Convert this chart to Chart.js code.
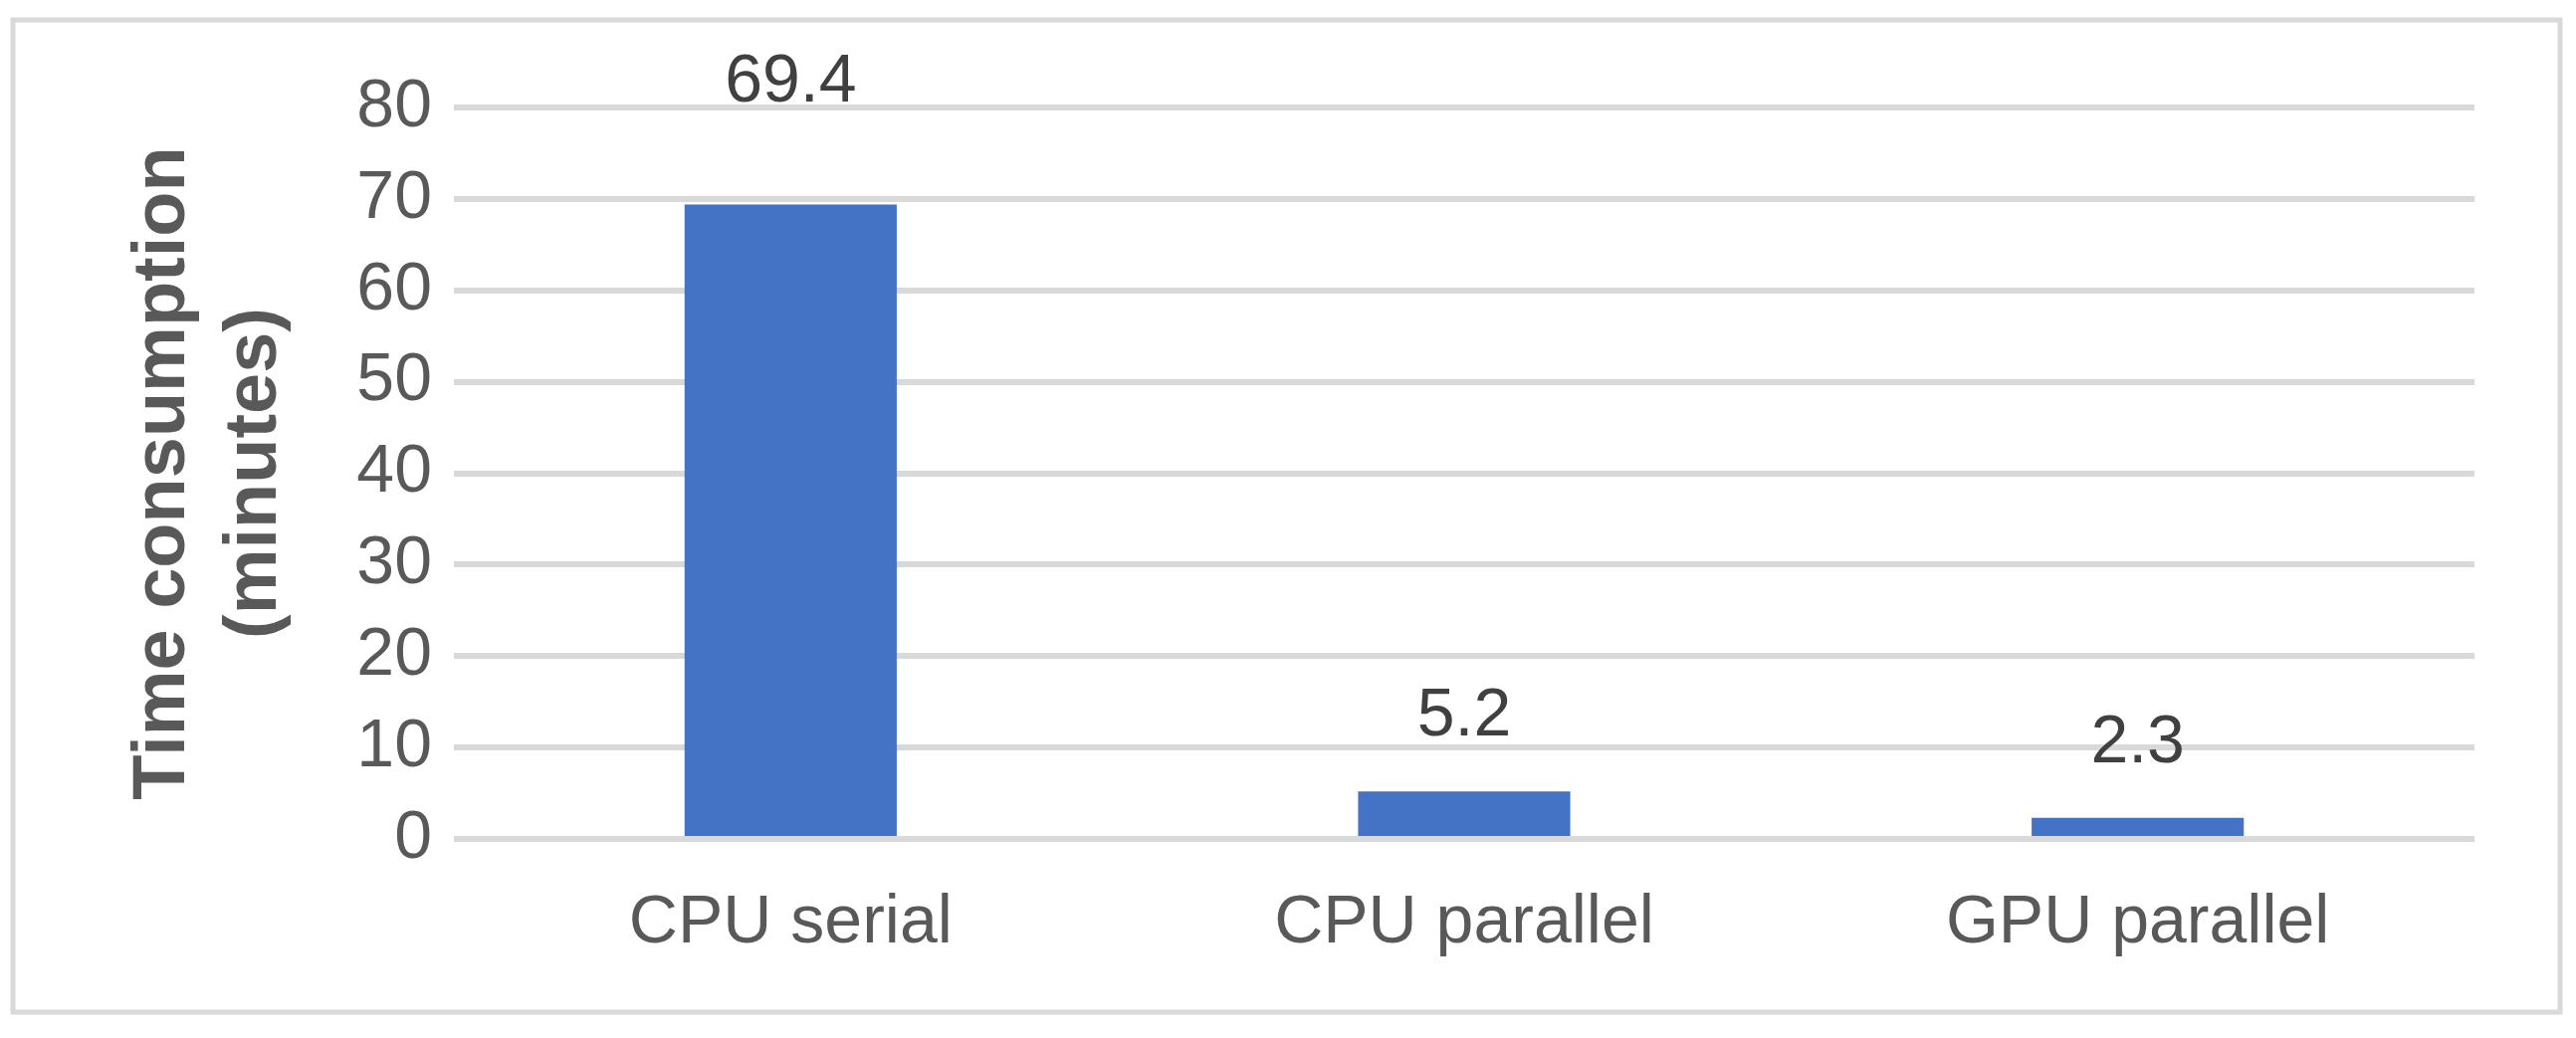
<!DOCTYPE html>
<html>
<head>
<meta charset="utf-8">
<script src="https://cdn.jsdelivr.net/npm/chart.js@4"></script>
<style>
  html, body { margin: 0; padding: 0; background: #fff; }
</style>
</head>
<body>
<canvas id="chart" width="2588" height="1043"></canvas>
<script>
// データ
var categories = ['CPU serial', 'CPU parallel', 'GPU parallel'];
var timeValues = [69.4, 5.2, 2.3];
var yTicks = [0, 10, 20, 30, 40, 50, 60, 70, 80];

var FONT = '"Liberation Sans", Arial, sans-serif';

// 外枠とデータラベル
var framePlugin = {
    id: 'frame',
    beforeDraw: function (chart) {
        var c = chart.ctx;
        c.save();
        c.fillStyle = '#fff';
        c.fillRect(0, 0, chart.width, chart.height);
        c.strokeStyle = '#d9d9d9';
        c.lineWidth = 5;
        c.strokeRect(13, 20, 2559, 997);
        c.restore();
    },
    afterDatasetsDraw: function (chart) {
        var c = chart.ctx;
        var meta = chart.getDatasetMeta(0);
        c.save();
        c.font = '68px ' + FONT;
        c.fillStyle = '#404040';
        c.textAlign = 'center';
        c.textBaseline = 'middle';
        meta.data.forEach(function (bar, i) {
            var off = i === 0 ? 122 : 75;
            c.fillText(timeValues[i], bar.x, bar.y - off);
        });
        c.restore();
    }
};

var ctx = document.getElementById('chart').getContext('2d');
const chart = new Chart(ctx, {
    type: 'bar',
    data: {
        labels: categories,
        datasets: [{
            data: timeValues,
            backgroundColor: '#4472C4',
            barPercentage: 0.63,
            categoryPercentage: 0.5
        }]
    },
    options: {
        responsive: false,
        devicePixelRatio: 1,
        animation: false,
        layout: { padding: { top: 108, right: 102, left: 0, bottom: 0 } },
        plugins: { legend: { display: false }, tooltip: { enabled: false } },
        scales: {
            x: {
                grid: { display: false },
                border: { display: false },
                ticks: {
                    color: '#595959',
                    padding: 36,
                    font: { size: 68, family: FONT }
                },
                afterFit: function (s) { s.height = 200; }
            },
            y: {
                min: 0,
                max: 80,
                afterBuildTicks: function (s) {
                    s.ticks = yTicks.map(function (v) { return { value: v }; });
                },
                grid: { color: '#d9d9d9', lineWidth: 6, drawTicks: false },
                border: { display: false },
                ticks: {
                    color: '#595959',
                    padding: 22,
                    font: { size: 68, family: FONT }
                },
                title: {
                    display: true,
                    text: ['Time consumption', '(minutes)'],
                    color: '#595959',
                    padding: { top: 118, bottom: 0 },
                    font: { size: 74, weight: 'bold', family: FONT, lineHeight: 1.25 }
                },
                afterFit: function (s) { s.width = 456; }
            }
        }
    },
    plugins: [framePlugin]
});
</script>
</body>
</html>
